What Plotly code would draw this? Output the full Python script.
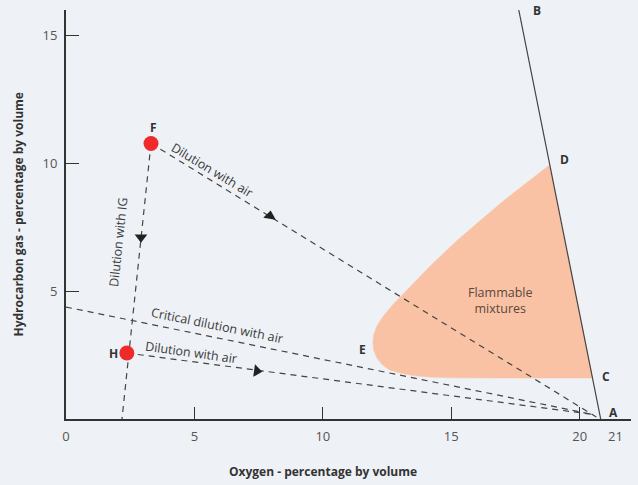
import plotly.graph_objects as go

# ---- data ----
# Flammable envelope boundary (oxygen %, hydrocarbon %), from D round via E to C
env_x = [18.83, 18.00, 17.08, 16.20, 15.25, 14.25, 13.27, 12.75, 12.33, 12.10, 11.98, 11.95,
         11.98, 12.10, 12.33, 12.60, 13.00, 13.50, 14.16, 15.00, 16.89, 20.51, 18.83]
env_y = [9.94, 9.30, 8.57, 7.82, 7.00, 6.05, 5.05, 4.50, 3.99, 3.62, 3.29, 3.00,
         2.70, 2.40, 2.11, 1.92, 1.80, 1.70, 1.64, 1.61, 1.60, 1.60, 9.94]

# Line B-A (upper limit of possible mixtures)
ba_x = [17.63, 20.82]
ba_y = [16.0, 0.0]

# Points
F_pt = (3.31, 10.78)
H_pt = (2.37, 2.58)
G_pt = (0.0, 4.38)
end_pt = (20.65, 0.08)
ig_end = (2.18, 0.0)

# Arrow heads (x, y, symbol, angle)
arrows_x = [7.94, 7.43, 2.92]
arrows_y = [7.94, 1.88, 7.11]
arrow_symbols = ["triangle-up", "triangle-right", "triangle-down"]
arrow_angles = [8, 8, 0]

# Letter labels
letters = ["A", "B", "C", "D", "E", "F", "G", "H"]
letters_x = [21.32, 18.33, 21.01, 19.42, 11.56, 3.39, -0.51, 1.83]
letters_y = [0.27, 16.0, 1.68, 10.17, 2.70, 11.42, 4.38, 2.58]

x_ticks = [0, 5, 10, 15, 20]
y_ticks = [5, 10, 15]

BG = "#eef1f5"
INK = "#333333"
FONT = "Open Sans"

fig = go.Figure()

# Flammable envelope
fig.add_trace(go.Scatter(
    x=env_x, y=env_y, mode="lines", fill="toself",
    fillcolor="#f9c2a4", line=dict(color="#f9c2a4", width=0.5),
    hoverinfo="skip"))

# B-A line
fig.add_trace(go.Scatter(x=ba_x, y=ba_y, mode="lines",
                         line=dict(color="#444444", width=1.2), hoverinfo="skip"))

dash = dict(color="#444444", width=1.2, dash="6px,5px")
# F -> A (dilution with air)
fig.add_trace(go.Scatter(x=[F_pt[0], end_pt[0]], y=[F_pt[1], end_pt[1]], mode="lines", line=dash, hoverinfo="skip"))
# F -> IG line through H
fig.add_trace(go.Scatter(x=[F_pt[0], ig_end[0]], y=[F_pt[1], ig_end[1]], mode="lines", line=dash, hoverinfo="skip"))
# G -> A (critical dilution)
fig.add_trace(go.Scatter(x=[G_pt[0], end_pt[0] - 0.15], y=[G_pt[1], end_pt[1] + 0.1], mode="lines", line=dash, hoverinfo="skip"))
# H -> A
fig.add_trace(go.Scatter(x=[H_pt[0], end_pt[0] - 0.15], y=[H_pt[1], end_pt[1] + 0.1], mode="lines", line=dash, hoverinfo="skip"))

# Arrow heads
fig.add_trace(go.Scatter(x=arrows_x, y=arrows_y, mode="markers",
                         marker=dict(symbol=arrow_symbols, angle=arrow_angles, size=11, color="#222222"),
                         hoverinfo="skip"))

# Red points F and H
fig.add_trace(go.Scatter(x=[F_pt[0], H_pt[0]], y=[F_pt[1], H_pt[1]], mode="markers",
                         marker=dict(size=15, color="#ee2a2a"), hoverinfo="skip"))

annotations = []
for t, x, y in zip(letters, letters_x, letters_y):
    annotations.append(dict(x=x, y=y, text=f"<b>{t}</b>", showarrow=False,
                            font=dict(family=FONT, size=12, color=INK)))

txt_font = dict(family=FONT, size=12.5, color="#3a3a3a")
annotations += [
    dict(x=5.72, y=9.74, text="Dilution with air", textangle=31, showarrow=False, font=txt_font),
    dict(x=2.02, y=6.92, text="Dilution with IG", textangle=-84, showarrow=False, font=txt_font),
    dict(x=5.88, y=3.64, text="Critical dilution with air", textangle=11.5, showarrow=False, font=txt_font),
    dict(x=4.90, y=2.62, text="Dilution with air", textangle=8, showarrow=False, font=txt_font),
    dict(x=16.89, y=4.62, text="Flammable<br>mixtures", showarrow=False,
         font=dict(family=FONT, size=12.5, color="#5a4840")),
    dict(x=21.4, y=0, yshift=-17, text="21", showarrow=False, font=dict(family=FONT, size=13, color="#555555")),
    dict(x=10, y=0, yshift=-52, text="<b>Oxygen - percentage by volume</b>", showarrow=False,
         font=dict(family=FONT, size=12, color=INK)),
    dict(x=0, y=8.0, xshift=-48, text="<b>Hydrocarbon gas - percentage by volume</b>", textangle=-90,
         showarrow=False, font=dict(family=FONT, size=12, color=INK)),
]

fig.update_layout(
    width=638, height=485,
    margin=dict(l=66, r=7, t=10, b=66),
    paper_bgcolor=BG, plot_bgcolor=BG,
    showlegend=False,
    annotations=annotations,
    xaxis=dict(range=[0, 22], tickvals=x_ticks, ticktext=[str(v) for v in x_ticks],
               ticks="inside", ticklen=12, tickwidth=1.2, tickcolor=INK,
               showline=True, linecolor=INK, linewidth=2, showgrid=False, zeroline=False,
               tickfont=dict(family=FONT, size=13, color="#555555"), ticklabelstandoff=4),
    yaxis=dict(range=[0, 16], tickvals=y_ticks, ticktext=[str(v) for v in y_ticks],
               ticks="inside", ticklen=13, tickwidth=1.2, tickcolor=INK,
               showline=True, linecolor=INK, linewidth=2, showgrid=False, zeroline=False,
               tickfont=dict(family=FONT, size=13, color="#555555"), ticklabelstandoff=4),
)

fig.write_html("out.html")
